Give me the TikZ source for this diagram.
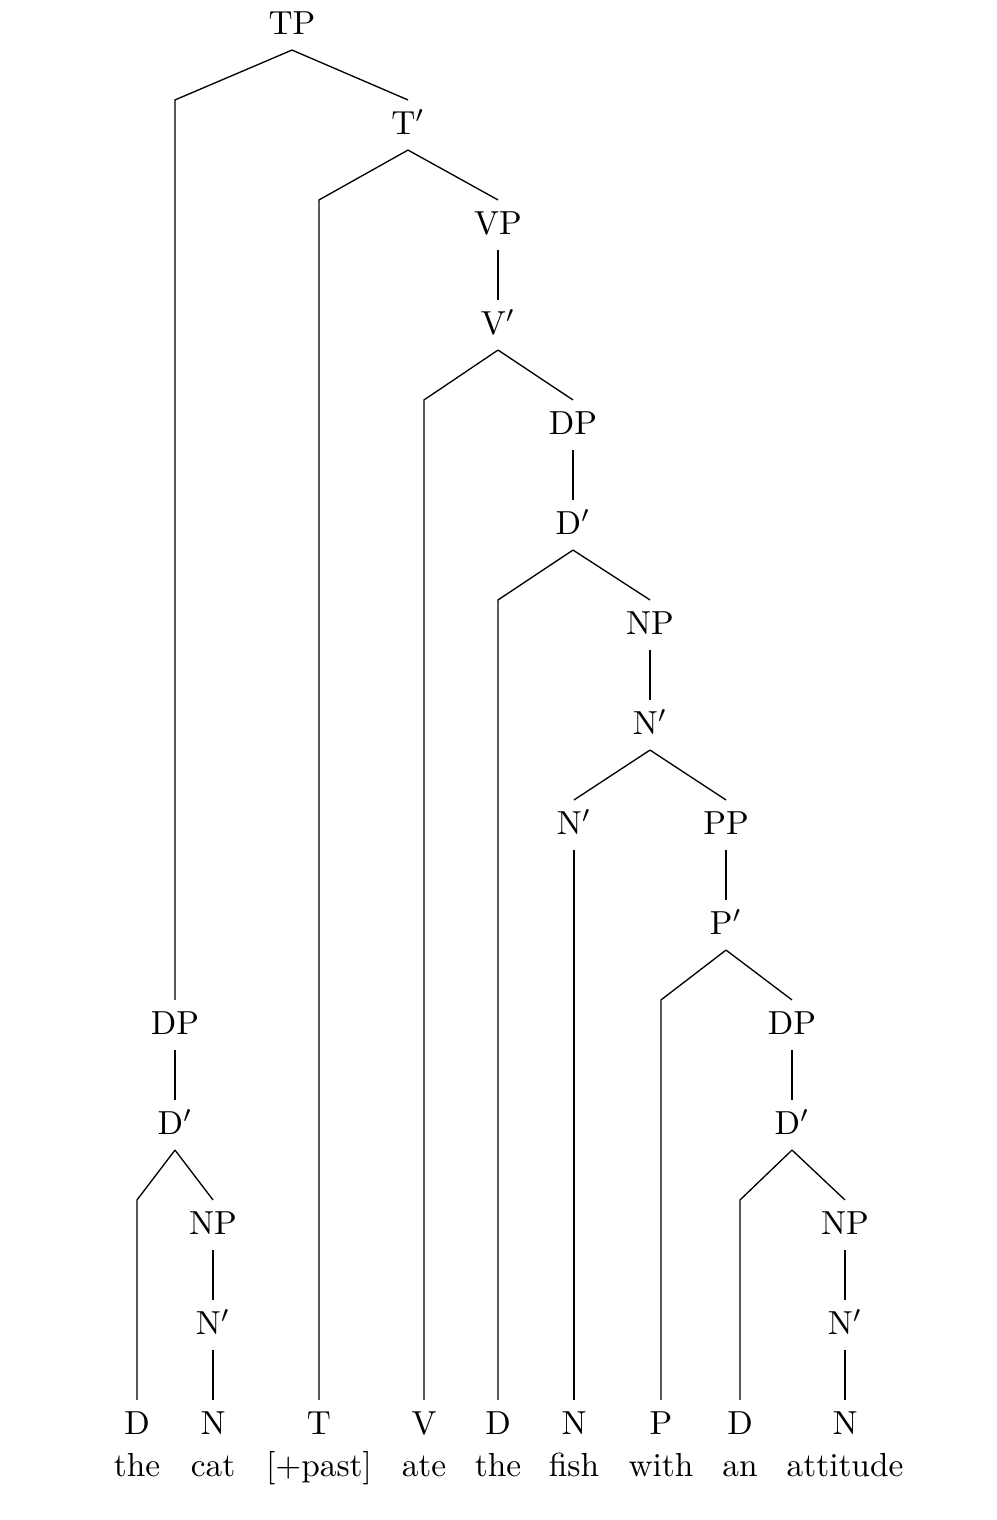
\documentclass[tikz,border=0pt]{standalone}
\begin{document}
\begin{tikzpicture}[
    x=0.3pt, y=-0.3pt,
    syn cat/.style={
        inner sep=0.333em,
        text height=1.6ex,
        text depth=0.25ex
    },
    syn word/.style={
        inner sep=0pt,
        text height=1.6ex,
        text depth=0.25ex
    },
    syn edge/.style={
        draw=black,
        line width=0.4pt
    }
]
    \useasboundingbox (0,0) rectangle (996,1520);

    % Spine of the clause
    \node[syn cat] (tp)    at (292,25)  {TP};
    \node[syn cat] (tbar)  at (408,125) {T$'$};
    \node[syn cat] (vp)    at (498,225) {VP};
    \node[syn cat] (vbar)  at (498,325) {V$'$};
    \node[syn cat] (dp2)   at (573,425) {DP};
    \node[syn cat] (d2bar) at (573,525) {D$'$};
    \node[syn cat] (np2)   at (650,625) {NP};
    \node[syn cat] (n2bar) at (650,725) {N$'$};
    \node[syn cat] (n3bar) at (574,825) {N$'$};
    \node[syn cat] (pp)    at (726,825) {PP};
    \node[syn cat] (pbar)  at (726,925) {P$'$};
    \node[syn cat] (dp3)   at (792,1025) {DP};
    \node[syn cat] (d3bar) at (792,1125) {D$'$};
    \node[syn cat] (np3)   at (845,1225) {NP};
    \node[syn cat] (n4bar) at (845,1325) {N$'$};

    % Subject
    \node[syn cat] (dp1)   at (175,1025) {DP};
    \node[syn cat] (d1bar) at (175,1125) {D$'$};
    \node[syn cat] (np1)   at (213,1225) {NP};
    \node[syn cat] (n1bar) at (213,1325) {N$'$};

    % Terminals and words
    \foreach \name/\xpos/\cat/\word in {
        d1/137/D/the, n1/213/N/cat, t/319/T/{[+past]}, v/424/V/ate,
        d2/498/D/the, n2/574/N/fish, p/661/P/with, d3/740/D/an,
        n3/845/N/attitude} {
        \node[syn cat] (\name) at (\xpos,1425) {\cat};
        \node[syn word] (w\name) at (\xpos,1467) {\word};
    }

    % Branches with a bend above the terminal
    \foreach \mother/\leaf/\sister in {
        tp/dp1/tbar, tbar/t/vp, vbar/v/dp2, d2bar/d2/np2,
        pbar/p/dp3, d3bar/d3/np3, d1bar/d1/np1} {
        \draw[syn edge] (\mother.south) -- (\leaf.north |- \sister.north)
            -- (\leaf.north);
        \draw[syn edge] (\mother.south) -- (\sister.north);
    }

    % Plain branches
    \foreach \mother/\daughter in {
        vp/vbar, dp2/d2bar, np2/n2bar, n2bar/n3bar, n2bar/pp,
        n3bar/n2, pp/pbar, dp3/d3bar, np3/n4bar, n4bar/n3,
        dp1/d1bar, np1/n1bar, n1bar/n1} {
        \draw[syn edge] (\mother.south) -- (\daughter.north);
    }
\end{tikzpicture}
\end{document}
